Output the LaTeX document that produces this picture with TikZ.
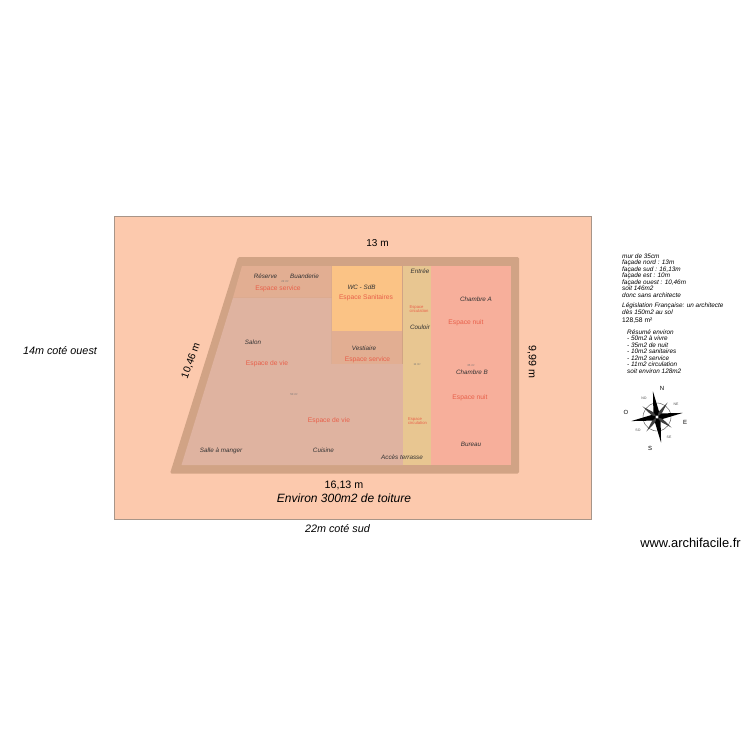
\documentclass[tikz,border=0pt]{standalone}
\usepackage{xcolor}
\usepackage{fontspec}
\setmainfont{Liberation Sans}
\usepackage{tikz}
\definecolor{terrain}{HTML}{FCC9AD}
\definecolor{terrainedge}{HTML}{A89588}
\definecolor{wall}{HTML}{D1A385}
\definecolor{vie}{HTML}{DFB3A0}
\definecolor{service}{HTML}{E2AE92}
\definecolor{sanitaire}{HTML}{FBC385}
\definecolor{circulation}{HTML}{E8C691}
\definecolor{nuit}{HTML}{F7AF9B}
\definecolor{espacered}{HTML}{E8604A}
\tikzset{
    roomname/.style={font=\fontsize{6.3}{7}\selectfont\itshape, text=black!80, inner sep=0pt},
    zonename/.style={font=\fontsize{6.7}{7}\selectfont, text=espacered, inner sep=0pt},
    circname/.style={font=\fontsize{4.2}{4}\selectfont, text=espacered, inner sep=0pt, align=left},
    tinyarea/.style={font=\fontsize{2.8}{3}\selectfont, text=black!55, inner sep=0pt},
    dimlabel/.style={font=\fontsize{10.7}{11}\selectfont, inner sep=1pt},
    remark/.style={font=\fontsize{10.8}{12}\selectfont\itshape, inner sep=0pt},
    notes/.style={font=\fontsize{6.4}{6.5}\selectfont\itshape, align=left, anchor=north west, inner sep=0pt},
    compasstext/.style={font=\fontsize{6}{6}\selectfont, inner sep=0pt},
    compasstiny/.style={font=\fontsize{3.5}{4}\selectfont, text=black!70, inner sep=0pt}
}
\begin{document}
\begin{tikzpicture}[x=1pt,y=-1pt]
    \useasboundingbox (0,0) rectangle (750,750);
    \fill [white] (0,0) rectangle (750,750);

    % Terrain
    \draw [fill=terrain, draw=terrainedge, line width=0.7pt] (114,216) rectangle (591,519);

    % Walls
    \fill [wall, rounded corners=1.5pt] (238,257) -- (519,257) -- (519,473.5) -- (170,473.5) -- cycle;

    % Rooms
    \fill [vie] (233,297.7) -- (331.5,297.7) -- (331.5,364) -- (403,364) -- (403,465) -- (181.5,465) -- cycle;
    \fill [service] (242,266) -- (331.5,266) -- (331.5,297.7) -- (233,297.7) -- cycle;
    \fill [sanitaire] (331.5,266) rectangle (402,330.7);
    \fill [service] (331.5,330.7) rectangle (402,364);
    \fill [circulation] (402.5,266) rectangle (431,465);
    \fill [nuit] (431,266) rectangle (510.5,465);

    % Room names
    \node [roomname] (reserve) at (265.5,276) {Réserve};
    \node [roomname] (buanderie) at (304.5,276) {Buanderie};
    \node [roomname] (wc) at (361.5,287) {WC - SdB};
    \node [roomname] (vestiaire) at (364,348) {Vestiaire};
    \node [roomname] (salon) at (253,342) {Salon};
    \node [roomname] (salle) at (221,451) {Salle à manger};
    \node [roomname] (cuisine) at (323.5,450) {Cuisine};
    \node [roomname] (terrasse) at (402,457) {Accès terrasse};
    \node [roomname] (entree) at (420,271) {Entrée};
    \node [roomname] (couloir) at (420,327) {Couloir};
    \node [roomname] (chambrea) at (476,299) {Chambre A};
    \node [roomname] (chambreb) at (472,372) {Chambre B};
    \node [roomname] (bureau) at (471,444) {Bureau};

    % Zones
    \node [zonename] (svc1) at (278,289) {Espace service};
    \node [zonename] (san) at (366,298) {Espace Sanitaires};
    \node [zonename] (svc2) at (367.5,360) {Espace service};
    \node [zonename] (vie1) at (267,364) {Espace de vie};
    \node [zonename] (vie2) at (329,421) {Espace de vie};
    \node [zonename] (nuit1) at (466,323) {Espace nuit};
    \node [zonename] (nuit2) at (470,398) {Espace nuit};
    \node [circname] (circ1) at (419,309) {Espace\\circulation};
    \node [circname] (circ2) at (417.5,421) {Espace\\circulation};

    % Small areas
    \node [tinyarea] (area1) at (285,281.5) {22 m²};
    \node [tinyarea] (area2) at (294,394.5) {50 m²};
    \node [tinyarea] (area3) at (417,365) {11 m²};
    \node [tinyarea] (area4) at (471,365.5) {35 m²};

    % Dimensions
    \node [dimlabel, font=\fontsize{10}{11}\selectfont] (north) at (377.5,243.5) {13 m};
    \node [dimlabel] (south) at (344,485) {16,13 m};
    \node [dimlabel, font=\fontsize{10.2}{11}\selectfont, rotate=70] (west) at (191,361) {10,46 m};
    \node [dimlabel, rotate=-90] (east) at (532,362) {9,99 m};

    % Remarks
    \node [remark, font=\fontsize{12}{13}\selectfont\itshape] (toit) at (344,498) {Environ 300m2 de toiture};
    \node [remark] (ouest) at (60,351) {14m coté ouest};
    \node [remark] (sud) at (337.5,529) {22m coté sud};
    \node [font=\fontsize{12.9}{14}\selectfont, inner sep=0pt] (site) at (690.5,543) {www.archifacile.fr};

    % Notes
    \node [notes] (note1) at (622,253.5) {mur de 35cm\\façade nord : 13m\\façade sud : 16,13m\\façade est : 10m\\façade ouest : 10,46m\\soit 146m2\\donc sans architecte};
    \node [notes] (note2) at (622,303) {Législation Française: un architecte\\dès 150m2 au sol};
    \node [font=\fontsize{6.7}{7}\selectfont, anchor=north west, inner sep=0pt] (surf) at (622,318) {128,58 m²};
    \node [notes] (note3) at (627,329.5) {Résumé environ\\- 50m2 à vivre\\- 35m2 de nuit\\- 10m2 sanitaires\\- 12m2 service\\- 11m2 circulation\\soit environ 128m2};

    % Compass
    \begin{scope}[shift={(657,417)}, rotate=9]
        \draw [black!70, line width=0.4pt] (0,0) circle (14);
        \foreach \a in {45,135,225,315} {
            \fill [black!75] (0,0) -- (\a+22:5) -- (\a:18) -- (\a-22:5) -- cycle;
        }
        \foreach \a in {0,90,180,270} {
            \fill [black] (0,0) -- (\a+28:6) -- (\a:26) -- (\a-28:6) -- cycle;
        }
        \fill [white] (0,0) circle (1.6);
    \end{scope}
    \node [compasstext] (compn) at (662,388) {N};
    \node [compasstext] (comps) at (650,448) {S};
    \node [compasstext] (compe) at (685,422) {E};
    \node [compasstext] (compo) at (626,412) {O};
    \node [compasstiny] (compno) at (644,398) {NO};
    \node [compasstiny] (compne) at (676,404) {NE};
    \node [compasstiny] (compse) at (669,437) {SE};
    \node [compasstiny] (compso) at (638,430) {SO};
\end{tikzpicture}
\end{document}
